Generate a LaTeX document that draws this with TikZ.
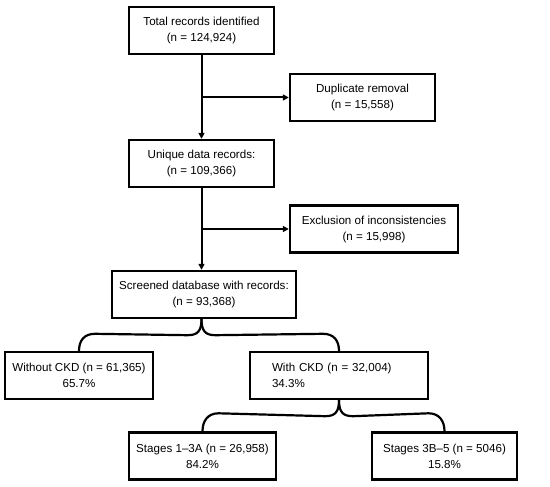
\documentclass[tikz,border=0pt]{standalone}
\usepackage{fontspec}
\setmainfont{Liberation Sans}
\usetikzlibrary{arrows.meta,calc}

\tikzset{
  box/.style={draw,line width=2.4pt,minimum height=47pt,inner sep=0pt,align=center,
    font=\fontsize{11.6}{16}\selectfont},
  flow/.style={line width=2pt,-{Triangle[length=6pt,width=6pt]}},
  brace/.style={line width=2.2pt}
}

\begin{document}
\begin{tikzpicture}[x=1pt,y=-1pt]
\useasboundingbox (0,0) rectangle (550,487);

\node[box,minimum width=145pt] (total) at (201.5,30.5) {Total records identified\\(n = 124,924)};
\node[box,minimum width=145pt] (dup) at (362.5,97.5) {Duplicate removal\\(n = 15,558)};
\node[box,minimum width=145pt] (unique) at (201.5,163.5) {Unique data records:\\(n = 109,366)};
\node[box,minimum width=168pt] (excl) at (374,229) {Exclusion of inconsistencies\\(n = 15,998)};
\node[box,minimum width=184pt] (screened) at (204,294.5) {Screened database with records:\\(n = 93,368)};

\node[box,minimum width=148pt] (nockd) at (79,375.5) {Without CKD (n = 61,365)\\65.7\%};
\node[box,minimum width=178pt,text width=134pt,align=left] (ckd) at (339,375.5) {With CKD (n = 32,004)\\34.3\%};

\node[box,minimum width=147pt] (early) at (202.5,456) {Stages 1–3A (n = 26,958)\\84.2\%};
\node[box,minimum width=145pt] (late) at (444.5,456) {Stages 3B–5 (n = 5046)\\15.8\%};

% main flow
\draw[flow] (total.south) -- (total.south |- unique.north);
\draw[flow] (total.south |- dup.west) -- (dup.west);
\draw[flow] (unique.south) -- (unique.south |- screened.north);
\draw[flow] (unique.south |- excl.west) -- (excl.west);

% split into groups
\coordinate (tip) at ($(screened.south)+(-2.5,0)$);
\draw[brace] (tip) .. controls +(0,12) and +(10,0) .. ($(tip)+(-14,16)$)
  -- ($(nockd.north)+(16,-17)$) .. controls +(-11,0) and +(0,-10) .. (nockd.north);
\draw[brace] (tip) .. controls +(0,12) and +(-10,0) .. ($(tip)+(14,16)$)
  -- ($(ckd.north)+(-16,-17)$) .. controls +(11,0) and +(0,-10) .. (ckd.north);

\draw[brace] (ckd.south) .. controls +(0,12) and +(10,0) .. ($(ckd.south)+(-14,16)$)
  -- ($(early.north)+(16,-18)$) .. controls +(-11,0) and +(0,-10) .. (early.north);
\draw[brace] (ckd.south) .. controls +(0,12) and +(-10,0) .. ($(ckd.south)+(14,16)$)
  -- ($(late.north)+(-16,-18)$) .. controls +(11,0) and +(0,-10) .. (late.north);
\end{tikzpicture}
\end{document}
